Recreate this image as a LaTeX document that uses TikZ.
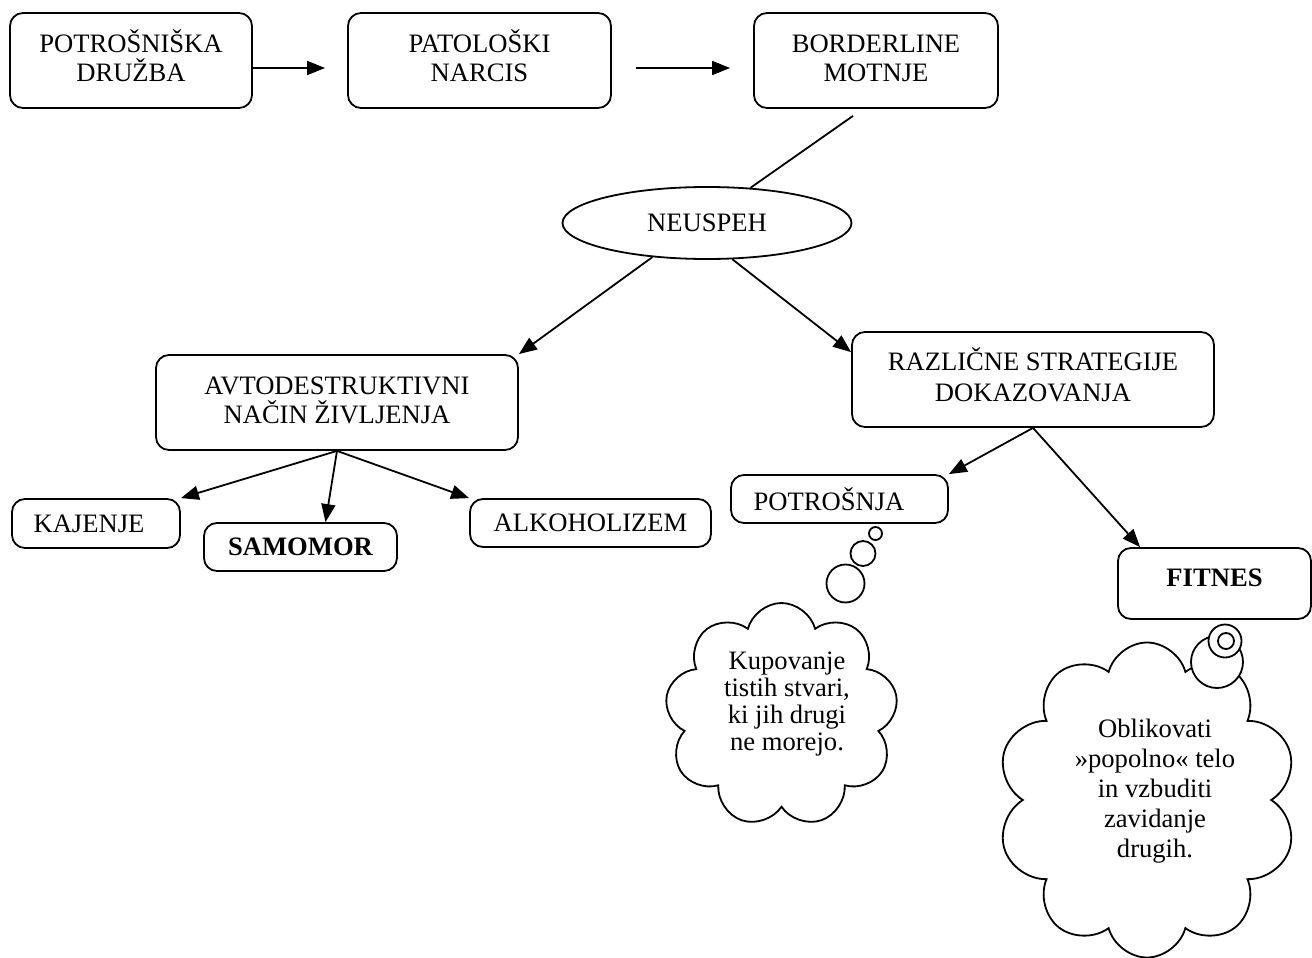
\documentclass[tikz,border=0pt]{standalone}
\usepackage{fontspec}
\setmainfont{Liberation Serif}
\usetikzlibrary{shapes.geometric,shapes.symbols,arrows.meta}
\newcommand{\toprule}{\rule{0pt}{24pt}}
\newcommand{\botrule}{\rule[-11pt]{0pt}{11pt}}
\begin{document}
\begin{tikzpicture}[x=1pt,y=-1pt,
  every node/.style={font=\fontsize{26.6pt}{29pt}\selectfont},
  box/.style={draw, rounded corners=13pt, line width=1.8pt, align=center, inner sep=0pt},
  conn/.style={line width=1.8pt},
  arr/.style={conn, -{Triangle[length=18pt,width=14pt]}},
  bub/.style={draw, circle, fill=white, line width=1.8pt, inner sep=0pt},
  thought/.style={draw, cloud, aspect=1, line width=1.8pt, inner sep=0pt},
  cloudtext/.style={align=center, inner sep=0pt}]
\useasboundingbox (0,0) rectangle (1312,958);

% top row
\node[box, minimum width=242pt, minimum height=95pt] (b1) at (131,60.5) {\toprule POTROŠNIŠKA\\DRUŽBA\botrule};
\node[box, minimum width=263pt, minimum height=95pt] (b2) at (479.5,60.5) {\toprule PATOLOŠKI\\NARCIS\botrule};
\node[box, minimum width=244pt, minimum height=95pt] (b3) at (876,60.5) {\toprule BORDERLINE\\MOTNJE\botrule};

\node[draw, ellipse, line width=1.8pt, minimum width=289pt, minimum height=72pt, inner sep=0pt] (neu) at (707,223) {NEUSPEH};

\node[box, minimum width=362pt, minimum height=95pt] (avto) at (337,402.5) {\toprule AVTODESTRUKTIVNI\\NAČIN ŽIVLJENJA\botrule};
\node[box, minimum width=362pt, minimum height=95pt, font=\fontsize{26.6pt}{31pt}\selectfont] (raz) at (1033,379.5) {\toprule RAZLIČNE STRATEGIJE\\DOKAZOVANJA\botrule};

\node[box, minimum width=168pt, minimum height=49pt] (kaj) at (96,523.5) {KAJENJE\hspace*{14pt}};
\node[box, minimum width=193pt, minimum height=48pt] (sam) at (300.5,547) {\bfseries SAMOMOR};
\node[box, minimum width=241pt, minimum height=48pt] (alk) at (590.5,523) {ALKOHOLIZEM};
\node[box, minimum width=217pt, minimum height=48pt] (pot) at (839.5,499) {POTROŠNJA\hspace*{21pt}};
\node[box, minimum width=193pt, minimum height=71pt] (fit) at (1214.5,583.5) {\raisebox{6pt}[\height][\depth]{\bfseries FITNES}};

% connectors
\draw[arr] ([yshift=-7.5pt]b1.east) -- ([xshift=-22pt,yshift=-7.5pt]b2.west);
\draw[arr] ([xshift=24pt,yshift=-7.5pt]b2.east) -- ([xshift=-23pt,yshift=-7.5pt]b3.west);
\draw[conn] ([xshift=-23pt,yshift=-7pt]b3.south) -- (neu.39);
\draw[arr] (neu.212) -- (avto.north east);
\draw[arr] (neu.305) -- ([yshift=-21pt]raz.north west);
\draw[arr] (avto.south) -- (kaj.north east);
\draw[arr] (avto.south) -- ([xshift=25pt]sam.north);
\draw[arr] (avto.south) -- (alk.north west);
\draw[arr] (raz.south) -- (pot.north east);
\draw[arr] (raz.south) -- ([xshift=23pt]fit.north west);

% thought cloud 1
\node[thought, cloud puffs=9, cloud puff arc=150, minimum width=233pt, minimum height=224pt] (c1) at (781.5,715) {};
\node[cloudtext, font=\fontsize{26.6pt}{27pt}\selectfont] (t1) at (787,704.5) {Kupovanje\\tistih stvari,\\ki jih drugi\\ne morejo.};
\node[bub, minimum size=13pt] (p1) at (875.5,533.5) {};
\node[bub, minimum size=25pt] (p2) at (863,553.5) {};
\node[bub, minimum size=38pt] (p3) at (845.5,583.5) {};

% thought cloud 2
\node[thought, cloud puffs=10, cloud puff arc=150, minimum width=300pt, minimum height=315pt] (c2) at (1147,800) {};
\node[cloudtext, font=\fontsize{26.6pt}{30pt}\selectfont] (t2) at (1155,791.5) {Oblikovati\\»popolno« telo\\in vzbuditi\\zavidanje\\drugih.};
\node[bub, minimum size=52pt] (q1) at (1217,662) {};
\node[bub, minimum size=33pt] (q2) at (1225,641) {};
\node[bub, minimum size=16pt] (q3) at (1226,641) {};
\end{tikzpicture}
\end{document}
